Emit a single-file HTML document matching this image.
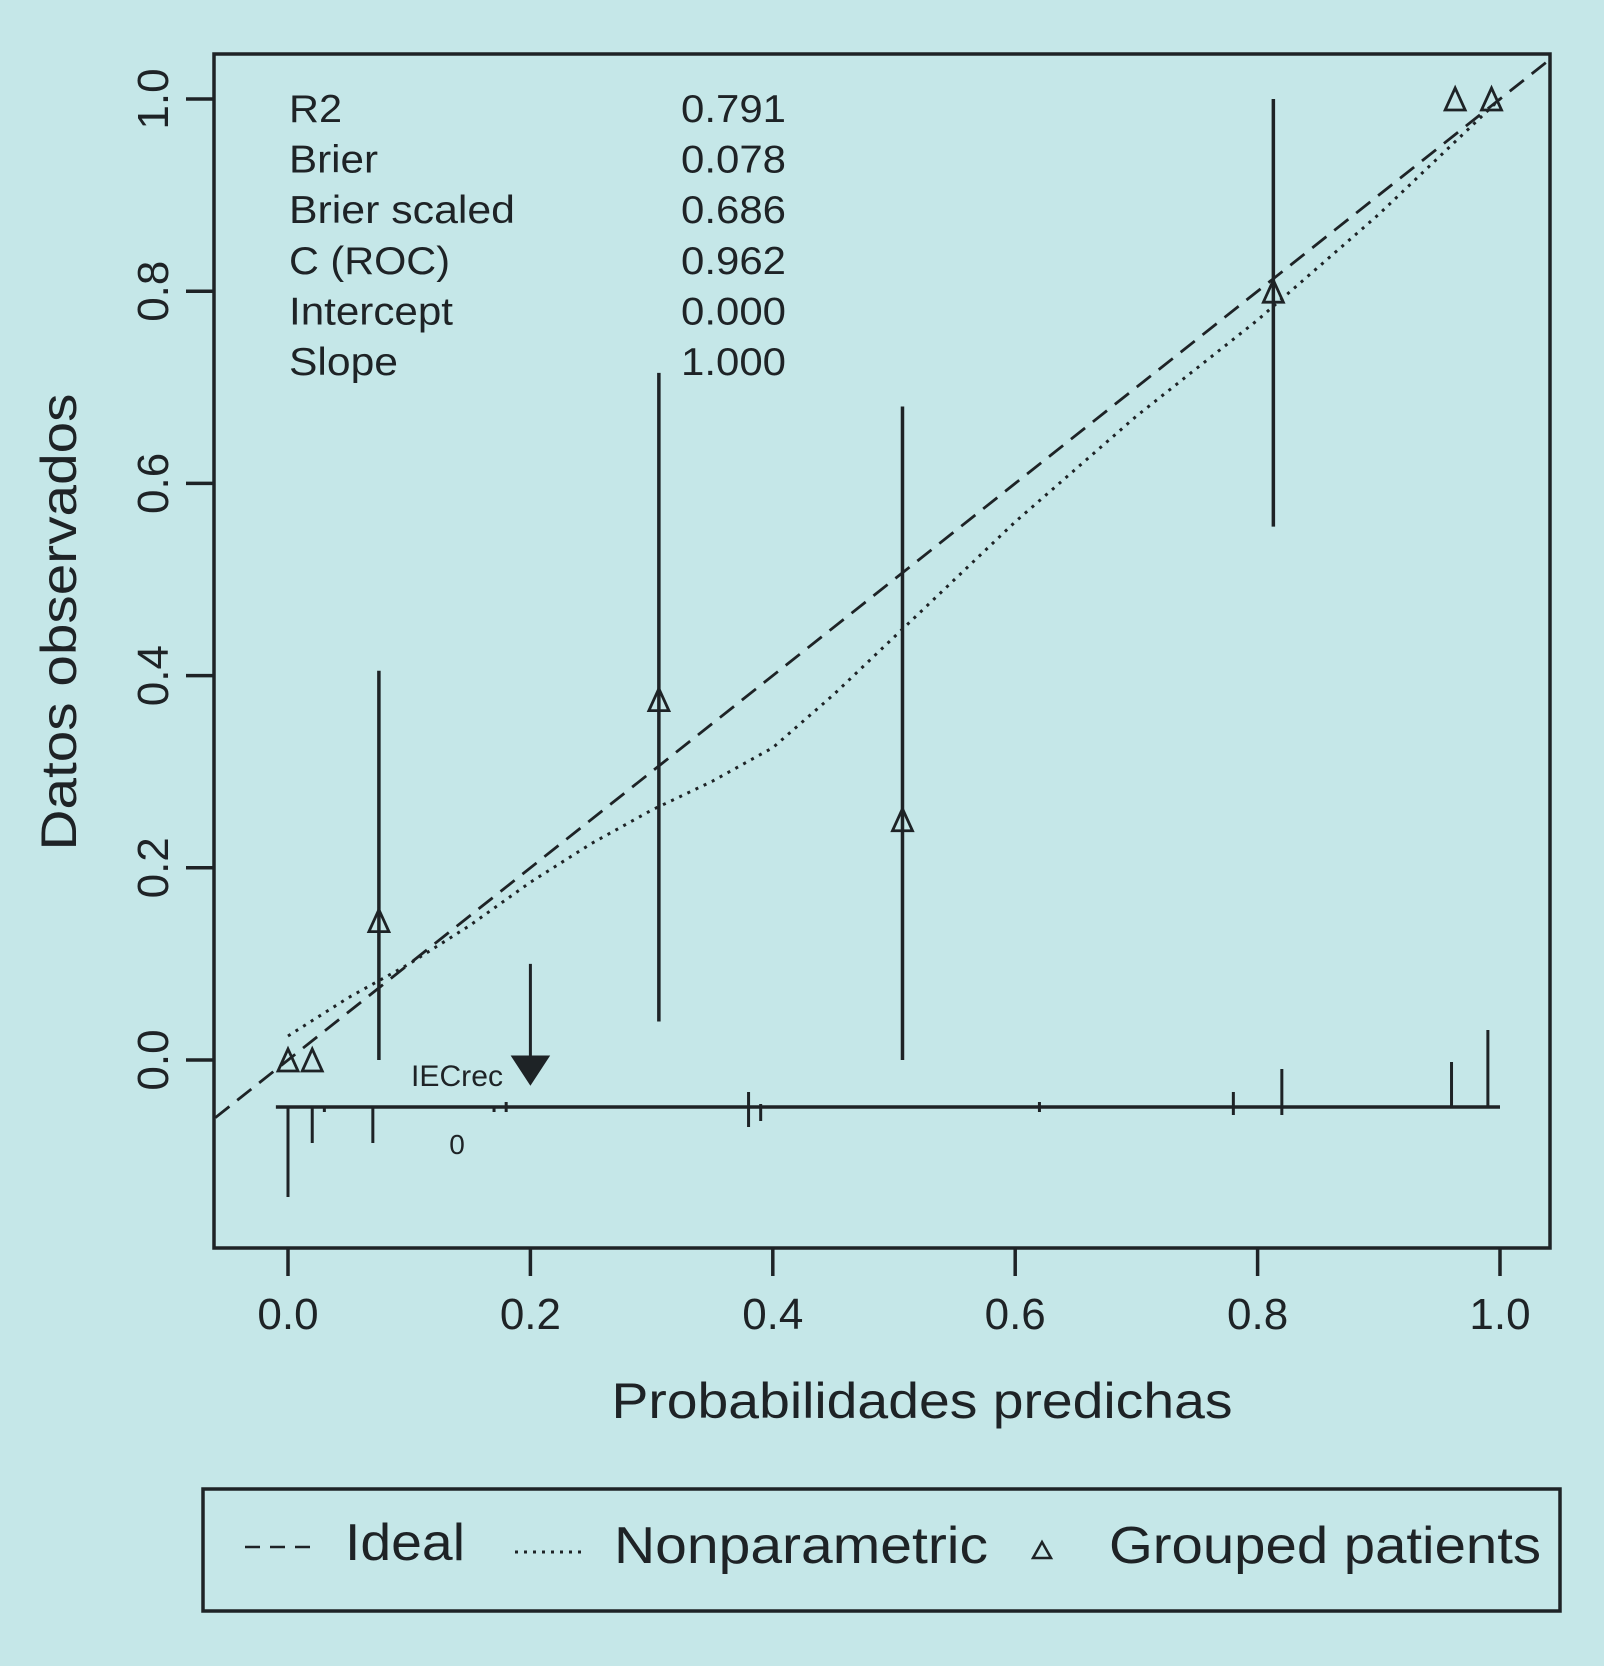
<!DOCTYPE html>
<html><head><meta charset="utf-8"><style>
html,body{margin:0;padding:0;background:#c5e7e8;}
svg{display:block;font-family:"Liberation Sans",sans-serif;}
</style></head><body>
<svg id="chart" width="1604" height="1666" viewBox="0 0 1604 1666">
<rect x="0" y="0" width="1604" height="1666" fill="#c5e7e8"/>
<defs><clipPath id="pc"><rect x="214" y="54" width="1336" height="1194"/></clipPath></defs>
<g id="g" stroke="#1e2326" fill="none" stroke-width="3"></g>
</svg>
<script>
const xTicks=[0,0.2,0.4,0.6,0.8,1.0];
const yTicks=[0,0.2,0.4,0.6,0.8,1.0];
const grpX=[0.0,0.02,0.075,0.306,0.507,0.813,0.963,0.993];
const grpY=[0.0,0.0,0.145,0.375,0.25,0.80,1.0,1.0];
const ciX=[0.075,0.306,0.507,0.813];
const ciLo=[0.0,0.04,0.0,0.555];
const ciHi=[0.405,0.715,0.68,1.0];
const npX=[0,0.05,0.1,0.15,0.2,0.25,0.3,0.35,0.4,0.45,0.5,0.6,0.7,0.8,0.9,1.0];
const npY=[0.025,0.065,0.1,0.14,0.185,0.225,0.26,0.29,0.325,0.38,0.44,0.56,0.67,0.77,0.88,1.0];
const spikeUpX=[0.18,0.38,0.39,0.62,0.78,0.82,0.96,0.99];
const spikeUp=[5,15,3,5,15,38,45,77];
const spikeDnX=[0.0,0.02,0.03,0.07,0.17,0.18,0.38,0.39,0.62,0.78,0.82];
const spikeDn=[90,36,5,36,5,5,20,14,5,8,8];
const statLabels=["R2","Brier","Brier scaled","C (ROC)","Intercept","Slope"];
const statValues=["0.791","0.078","0.686","0.962","0.000","1.000"];
const statLabelWidths=[53,89,226,161,164,109];

const X=v=>288+1212*v, Y=v=>1060-961*v;
const NS="http://www.w3.org/2000/svg";
const svg=document.getElementById('chart'), g=document.getElementById('g');
function mk(tag,attrs,parent){const e=document.createElementNS(NS,tag);for(const k in attrs)e.setAttribute(k,attrs[k]);(parent||g).appendChild(e);return e;}
function txt(s,x,y,size,anchor,extra){const t=mk('text',Object.assign({x:x,y:y,'font-size':size,'text-anchor':anchor||'start',fill:'#1e2326',stroke:'none'},extra||{}),svg);t.textContent=s;return t;}

let e=mk('rect',{x:214,y:54,width:1336,height:1194,'stroke-width':3.5});



xTicks.forEach(v=>{
  let t=mk('line',{x1:X(v),x2:X(v),y1:1248,y2:1276,'stroke-width':3.5});
  
  
  let l=txt(v.toFixed(1),X(v),1329,44,'middle');
  
  
});
yTicks.forEach(v=>{
  let t=mk('line',{x1:186,x2:214,y1:Y(v),y2:Y(v),'stroke-width':3.5});
  
  
  let l=txt(v.toFixed(1),168,Y(v),44,'middle',{transform:`rotate(-90 168 ${Y(v)})`});
  
  
});
let xt=txt("Probabilidades predichas",922,1418,50,'middle',{textLength:621,lengthAdjust:'spacingAndGlyphs'});


let yt=txt("Datos observados",76,622,50,'middle',{transform:'rotate(-90 76 622)',textLength:457,lengthAdjust:'spacingAndGlyphs'});



const cg=mk('g',{'clip-path':'url(#pc)'});
let ideal=mk('line',{x1:X(-0.06),y1:Y(-0.06),x2:X(1.04),y2:Y(1.04),'stroke-dasharray':'18 10','stroke-width':2.8},cg);


let np=mk('polyline',{points:npX.map((v,i)=>X(v)+','+Y(npY[i])).join(' '),'stroke-dasharray':'3 6','stroke-width':3},cg);



ciX.forEach((v,i)=>{
  let l=mk('line',{x1:X(v),x2:X(v),y1:Y(ciLo[i]),y2:Y(ciHi[i]),'stroke-width':3.5});
  
  
});
grpX.forEach((v,i)=>{
  const cx=X(v),cy=Y(grpY[i]);
  let p=mk('polygon',{points:`${cx-10},${cy+11} ${cx+10},${cy+11} ${cx},${cy-11}`,'stroke-width':2.8});
  
  
});

let base=mk('line',{x1:X(-0.01),x2:X(1.0),y1:1107,y2:1107,'stroke-width':3.5});


spikeUpX.forEach((v,i)=>{
  let l=mk('line',{x1:X(v),x2:X(v),y1:1107,y2:1107-spikeUp[i]});
  
  
});
spikeDnX.forEach((v,i)=>{
  let l=mk('line',{x1:X(v),x2:X(v),y1:1107,y2:1107+spikeDn[i]});
  
  
});

let ar=mk('line',{x1:X(0.2),x2:X(0.2),y1:Y(0.1),y2:Y(0.0)});


let ah=mk('polygon',{points:`${X(0.2)-17},${Y(0)-3} ${X(0.2)+17},${Y(0)-3} ${X(0.2)},${Y(0)+23}`,fill:'#1e2326'});


let ie=txt("IECrec",457,1086,30,'middle',{textLength:92,lengthAdjust:'spacingAndGlyphs'});


let z=txt("0",457,1154,28,'middle');



statLabels.forEach((s,i)=>{
  let a=txt(s,289,122+50.6*i,39,'start',{textLength:statLabelWidths[i],lengthAdjust:'spacingAndGlyphs'});
  
  
  let b=txt(statValues[i],786,122+50.6*i,39,'end',{textLength:105,lengthAdjust:'spacingAndGlyphs'});
  
  
});

let lg=mk('rect',{x:203,y:1489,width:1357,height:122,'stroke-width':3.5});


let ld=mk('line',{x1:245,x2:310,y1:1547,y2:1547,'stroke-dasharray':'15 10','stroke-width':2.5});


let l1=txt("Ideal",345,1560,52,'start',{textLength:120,lengthAdjust:'spacingAndGlyphs'});


let lp=mk('line',{x1:515,x2:582,y1:1552,y2:1552,'stroke-dasharray':'3 6','stroke-width':3});


let l2=txt("Nonparametric",614,1563,52,'start',{textLength:374,lengthAdjust:'spacingAndGlyphs'});


let lt=mk('polygon',{points:'1033,1558 1051,1558 1042,1542','stroke-width':2.5});


let l3=txt("Grouped patients",1109,1563,52,'start',{textLength:432,lengthAdjust:'spacingAndGlyphs'});


</script>
</body></html>
